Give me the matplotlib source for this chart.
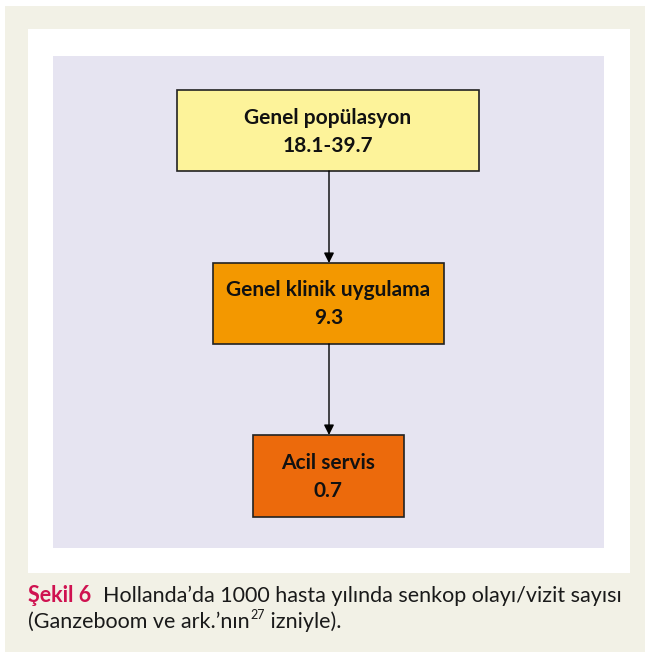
import matplotlib
matplotlib.use('Agg')
import matplotlib.pyplot as plt
from matplotlib.patches import Rectangle, FancyArrowPatch

plt.rcParams['font.family'] = ['Lato', 'DejaVu Sans']

# kutu metinleri ve değerleri
labels = ['Genel popülasyon', 'Genel klinik uygulama', 'Acil servis']
values = ['18.1-39.7', '9.3', '0.7']
colors = ['#fdf39a', '#f39800', '#ec6a0c']

caption_head = 'Şekil 6'
caption_line1 = 'Hollanda’da 1000 hasta yılında senkop olayı/vizit sayısı'
caption_line2a = '(Ganzeboom ve ark.’nın'
caption_sup = '27'
caption_line2b = ' izniyle).'

# kutu yerleşimi (piksel): x0, y0, x1, y1
boxes = [(177, 90, 479, 171), (213, 263, 444, 344), (253, 435, 404, 517)]

W, H = 645, 652
fig = plt.figure(figsize=(W / 100, H / 100), dpi=100)
ax = fig.add_axes([0, 0, 1, 1])
ax.set_xlim(0, W)
ax.set_ylim(H, 0)
ax.axis('off')

# arka planlar
ax.add_patch(Rectangle((5, 6), W - 5, H - 6, facecolor='#f2f1e6', edgecolor='none'))
ax.add_patch(Rectangle((28, 29), 602, 544, facecolor='white', edgecolor='none'))
ax.add_patch(Rectangle((53, 56), 551, 492, facecolor='#e6e4f1', edgecolor='none'))

for (x0, y0, x1, y1), lab, val, c in zip(boxes, labels, values, colors):
    ax.add_patch(Rectangle((x0, y0), x1 - x0, y1 - y0, facecolor=c,
                           edgecolor='#222222', linewidth=1.2))
    cx = (x0 + x1) / 2
    cy = (y0 + y1) / 2
    ax.text(cx, cy - 13, lab, ha='center', va='center', fontsize=15,
            fontweight='bold', color='#111111')
    ax.text(cx, cy + 15, val, ha='center', va='center', fontsize=15,
            fontweight='bold', color='#111111')

# oklar
for (a, b) in zip(boxes[:-1], boxes[1:]):
    ax.add_patch(FancyArrowPatch((329, a[3]), (329, b[1]),
                                 arrowstyle='-|>', mutation_scale=15,
                                 color='black', linewidth=1.0,
                                 shrinkA=0, shrinkB=0))

# alt yazı
fig.canvas.draw()
r = fig.canvas.get_renderer()

def put(x, y, s, **kw):
    t = ax.text(x, y, s, va='baseline', ha='left', **kw)
    bb = t.get_window_extent(renderer=r)
    return x + bb.width

x = 28
x = put(x, 602, caption_head, fontsize=15.5, fontweight='bold', color='#cf1250')
x = put(x + 12, 602, caption_line1, fontsize=15.5, color='#1a1a1a')

x = put(28, 628, caption_line2a, fontsize=15.5, color='#1a1a1a')
x = put(x + 1, 619, caption_sup, fontsize=9, color='#1a1a1a')
put(x, 628, caption_line2b, fontsize=15.5, color='#1a1a1a')

fig.savefig('out.png', dpi=100)
